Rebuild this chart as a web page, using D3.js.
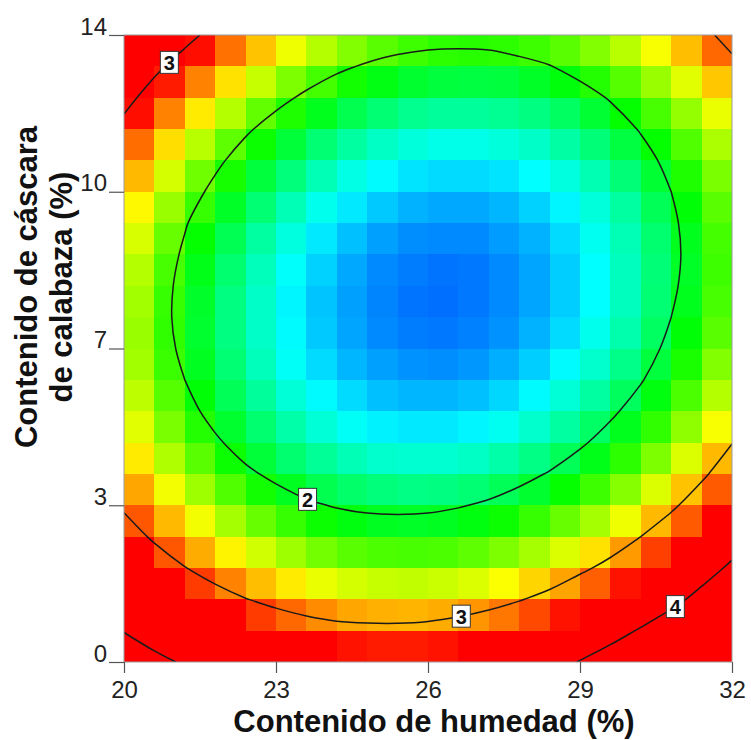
<!DOCTYPE html>
<html>
<head>
<meta charset="utf-8">
<script src="https://cdn.jsdelivr.net/npm/d3@7"></script>
<style>
  html, body { margin: 0; padding: 0; background: #ffffff; }
  svg { display: block; font-family: "Liberation Sans", Arial, Helvetica, sans-serif; }
</style>
</head>
<body>
<svg id="chart" width="751" height="740"></svg>
<script>
// Contenido de humedad (%) at each grid node
const humedad = [20, 20.6, 21.2, 21.8, 22.4, 23, 23.6, 24.2, 24.8, 25.4, 26,
                 26.6, 27.2, 27.8, 28.4, 29, 29.6, 30.2, 30.8, 31.4, 32];

// Contenido de cáscara de calabaza (%) at each grid node, top row first
const cascara = [14, 13.3, 12.6, 11.9, 11.2, 10.5, 9.8, 9.1, 8.4, 7.7, 7,
                 6.3, 5.6, 4.9, 4.2, 3.5, 2.8, 2.1, 1.4, 0.7, 0];

// Response at each node: one row per cascara value, one column per humedad value
const respuesta = [
  [3.61, 3.34, 3.11, 2.89, 2.71, 2.54, 2.41, 2.30, 2.21, 2.15, 2.11, 2.10, 2.11, 2.15, 2.21, 2.30, 2.42, 2.56, 2.72, 2.91, 3.12],
  [3.34, 3.08, 2.85, 2.64, 2.45, 2.29, 2.16, 2.05, 1.97, 1.91, 1.88, 1.87, 1.88, 1.93, 1.99, 2.09, 2.20, 2.35, 2.51, 2.70, 2.92],
  [3.11, 2.85, 2.62, 2.41, 2.23, 2.08, 1.95, 1.84, 1.76, 1.70, 1.67, 1.67, 1.69, 1.73, 1.80, 1.90, 2.02, 2.17, 2.34, 2.53, 2.75],
  [2.90, 2.65, 2.42, 2.22, 2.04, 1.89, 1.76, 1.66, 1.58, 1.53, 1.50, 1.50, 1.53, 1.57, 1.65, 1.75, 1.87, 2.02, 2.19, 2.39, 2.62],
  [2.73, 2.48, 2.26, 2.06, 1.88, 1.74, 1.61, 1.51, 1.44, 1.39, 1.37, 1.37, 1.39, 1.45, 1.52, 1.62, 1.75, 1.90, 2.08, 2.28, 2.51],
  [2.59, 2.35, 2.13, 1.93, 1.76, 1.61, 1.49, 1.40, 1.33, 1.28, 1.26, 1.26, 1.29, 1.35, 1.43, 1.53, 1.66, 1.82, 2.00, 2.21, 2.44],
  [2.49, 2.24, 2.02, 1.83, 1.66, 1.52, 1.40, 1.31, 1.24, 1.20, 1.19, 1.19, 1.23, 1.28, 1.37, 1.48, 1.61, 1.77, 1.95, 2.16, 2.39],
  [2.41, 2.17, 1.96, 1.77, 1.60, 1.46, 1.35, 1.26, 1.19, 1.16, 1.14, 1.15, 1.19, 1.25, 1.34, 1.45, 1.59, 1.75, 1.93, 2.15, 2.38],
  [2.37, 2.13, 1.92, 1.73, 1.57, 1.43, 1.32, 1.24, 1.18, 1.14, 1.13, 1.15, 1.19, 1.25, 1.34, 1.45, 1.59, 1.76, 1.95, 2.17, 2.41],
  [2.35, 2.12, 1.91, 1.73, 1.57, 1.44, 1.33, 1.25, 1.19, 1.16, 1.15, 1.17, 1.21, 1.28, 1.37, 1.49, 1.63, 1.80, 2.00, 2.21, 2.46],
  [2.37, 2.14, 1.94, 1.76, 1.60, 1.47, 1.37, 1.29, 1.24, 1.21, 1.20, 1.22, 1.27, 1.34, 1.44, 1.56, 1.71, 1.88, 2.07, 2.30, 2.54],
  [2.43, 2.20, 2.00, 1.82, 1.67, 1.54, 1.44, 1.37, 1.31, 1.29, 1.29, 1.31, 1.36, 1.44, 1.54, 1.66, 1.81, 1.98, 2.18, 2.41, 2.66],
  [2.51, 2.28, 2.09, 1.91, 1.77, 1.64, 1.54, 1.47, 1.42, 1.40, 1.40, 1.43, 1.48, 1.56, 1.66, 1.79, 1.95, 2.12, 2.33, 2.56, 2.81],
  [2.62, 2.40, 2.21, 2.04, 1.89, 1.77, 1.68, 1.61, 1.56, 1.55, 1.55, 1.58, 1.64, 1.72, 1.82, 1.96, 2.11, 2.29, 2.50, 2.73, 2.99],
  [2.77, 2.55, 2.36, 2.19, 2.05, 1.94, 1.84, 1.78, 1.74, 1.72, 1.73, 1.76, 1.82, 1.91, 2.02, 2.15, 2.31, 2.50, 2.71, 2.94, 3.20],
  [2.95, 2.73, 2.55, 2.38, 2.24, 2.13, 2.04, 1.98, 1.94, 1.93, 1.94, 1.98, 2.04, 2.13, 2.24, 2.38, 2.54, 2.73, 2.94, 3.18, 3.44],
  [3.16, 2.95, 2.76, 2.60, 2.47, 2.36, 2.27, 2.21, 2.18, 2.17, 2.18, 2.22, 2.29, 2.38, 2.50, 2.64, 2.80, 3.00, 3.21, 3.48, 3.76],
  [3.40, 3.19, 3.01, 2.85, 2.72, 2.62, 2.53, 2.48, 2.45, 2.44, 2.46, 2.50, 2.57, 2.67, 2.78, 2.93, 3.10, 3.33, 3.55, 3.80, 4.08],
  [3.67, 3.47, 3.29, 3.14, 3.01, 2.91, 2.83, 2.77, 2.75, 2.74, 2.76, 2.81, 2.88, 2.98, 3.10, 3.28, 3.46, 3.66, 3.87, 4.14, 4.42],
  [3.98, 3.78, 3.60, 3.45, 3.33, 3.23, 3.15, 3.10, 3.08, 3.08, 3.10, 3.15, 3.23, 3.33, 3.47, 3.64, 3.83, 4.04, 4.27, 4.52, 4.80],
  [4.32, 4.12, 3.95, 3.80, 3.68, 3.58, 3.51, 3.46, 3.44, 3.44, 3.47, 3.53, 3.61, 3.71, 3.84, 4.02, 4.21, 4.42, 4.65, 4.91, 5.19]
];

// Contour levels drawn as lines
const niveles = [2, 3, 4];

// Axis ticks
const xTicks = [20, 23, 26, 29, 32];
const xTickLabels = ["20", "23", "26", "29", "32"];
const yTicks = [0, 3.5, 7, 10.5, 14];
const yTickLabels = ["0", "3", "7", "10", "14"];

// Where each contour label sits (snapped onto its line)
const etiquetas = [
  { nivel: 3, x: 20.87, y: 13.42 },
  { nivel: 2, x: 23.65, y: 3.73 },
  { nivel: 3, x: 26.63, y: 1.16 },
  { nivel: 4, x: 30.83, y: 1.32 }
];

const svg = d3.select("#chart");
const plot = { left: 124, right: 732, top: 35, bottom: 662 };

const x = d3.scaleLinear().domain([20, 32]).range([plot.left, plot.right]);
const y = d3.scaleLinear().domain([0, 14]).range([plot.bottom, plot.top]);

// Rainbow ramp: blue for low response, red for high
const hue = d3.scaleLinear().domain([1.13, 3.14]).range([214, 0]).clamp(true);
const color = v => d3.hsl(hue(v), 1, 0.5).formatHex();

svg.append("defs").append("clipPath").attr("id", "area")
  .append("rect")
  .attr("x", plot.left).attr("y", plot.top)
  .attr("width", plot.right - plot.left).attr("height", plot.bottom - plot.top);

// Colour mosaic: each cell takes the value of its upper-left node
const nx = humedad.length, ny = cascara.length;
const celdas = [];
for (let j = 0; j < ny - 1; j++) {
  for (let i = 0; i < nx - 1; i++) {
    celdas.push({ i, j, v: respuesta[j][i] });
  }
}
svg.append("g")
  .attr("shape-rendering", "crispEdges")
  .selectAll("rect")
  .data(celdas)
  .join("rect")
  .attr("x", d => Math.round(x(humedad[d.i])))
  .attr("y", d => Math.round(y(cascara[d.j])))
  .attr("width", d => Math.round(x(humedad[d.i + 1])) - Math.round(x(humedad[d.i])))
  .attr("height", d => Math.round(y(cascara[d.j + 1])) - Math.round(y(cascara[d.j])))
  .attr("fill", d => color(d.v));

// Contour lines from the node grid
const contornos = d3.contours().size([nx, ny]).thresholds(niveles)(respuesta.flat());
const gx = d3.scaleLinear().domain([0.5, nx - 0.5]).range([x(humedad[0]), x(humedad[nx - 1])]);
const gy = d3.scaleLinear().domain([0.5, ny - 0.5]).range([y(cascara[0]), y(cascara[ny - 1])]);

// Break each ring where it runs along the outer border, keeping only the iso-lines
function tramos(ring) {
  const borde = p => p[0] <= 0 || p[0] >= nx || p[1] <= 0 || p[1] >= ny;
  const pts = ring.slice(0, -1);
  const k = pts.findIndex(borde);
  if (k < 0) return [{ cerrado: true, pts }];
  const rot = pts.slice(k).concat(pts.slice(0, k));
  const out = [];
  let cur = [];
  for (const p of rot) {
    if (borde(p)) { if (cur.length > 1) out.push(cur); cur = []; }
    else cur.push(p);
  }
  if (cur.length > 1) out.push(cur);
  return out.map(r => ({ cerrado: false, pts: r }));
}

const lineas = [];
contornos.forEach(c => {
  c.coordinates.forEach(poly => poly.forEach(ring => {
    tramos(ring).forEach(t => {
      lineas.push({
        nivel: c.value,
        cerrado: t.cerrado,
        pts: t.pts.map(p => [gx(p[0]), gy(p[1])])
      });
    });
  }));
});

const abierta = d3.line().curve(d3.curveCatmullRom.alpha(0.5));
const cerrada = d3.line().curve(d3.curveCatmullRomClosed.alpha(0.5));

svg.append("g")
  .attr("clip-path", "url(#area)")
  .selectAll("path")
  .data(lineas)
  .join("path")
  .attr("d", d => (d.cerrado ? cerrada : abierta)(d.pts))
  .attr("fill", "none")
  .attr("stroke", "#1a1a1a")
  .attr("stroke-width", 1.5);

// Plot frame
svg.append("rect")
  .attr("x", plot.left).attr("y", plot.top)
  .attr("width", plot.right - plot.left).attr("height", plot.bottom - plot.top)
  .attr("fill", "none").attr("stroke", "#9c9c9c").attr("stroke-width", 1);

// Contour labels: white boxes placed on their lines
function puntoCercano(nivel, px, py) {
  let best = null, bd = Infinity;
  lineas.filter(l => l.nivel === nivel).forEach(l => {
    const pts = l.cerrado ? l.pts.concat([l.pts[0]]) : l.pts;
    for (let s = 0; s < pts.length - 1; s++) {
      const [ax, ay] = pts[s], [bx, by] = pts[s + 1];
      const dx = bx - ax, dy = by - ay;
      const L = dx * dx + dy * dy;
      let t = L ? ((px - ax) * dx + (py - ay) * dy) / L : 0;
      t = Math.max(0, Math.min(1, t));
      const qx = ax + t * dx, qy = ay + t * dy;
      const d = (qx - px) ** 2 + (qy - py) ** 2;
      if (d < bd) { bd = d; best = [qx, qy]; }
    }
  });
  return best || [px, py];
}

const gLab = svg.append("g");
etiquetas.forEach(e => {
  const [cx, cy] = puntoCercano(e.nivel, x(e.x), y(e.y));
  const g = gLab.append("g").attr("transform", `translate(${cx},${cy})`);
  g.append("rect")
    .attr("x", -9).attr("y", -11).attr("width", 18).attr("height", 22)
    .attr("fill", "#ffffff").attr("stroke", "#333333").attr("stroke-width", 1);
  g.append("text")
    .attr("text-anchor", "middle")
    .attr("y", 7.5)
    .attr("font-size", 20).attr("font-weight", "bold")
    .attr("fill", "#111111")
    .text(e.nivel);
});

// Axes
const ejeX = svg.append("g")
  .attr("transform", `translate(0,${plot.bottom})`)
  .call(d3.axisBottom(x).tickValues(xTicks)
    .tickFormat((d, i) => xTickLabels[i]).tickSize(11).tickSizeOuter(0));
ejeX.select(".domain").remove();
ejeX.selectAll(".tick line").attr("stroke", "#555555").attr("stroke-width", 1.2);
ejeX.selectAll(".tick text")
  .attr("y", 36).attr("dy", 0)
  .attr("font-size", 24).attr("font-family", "Liberation Sans, Arial, sans-serif")
  .attr("fill", "#222222");

const ejeY = svg.append("g")
  .attr("transform", `translate(${plot.left},0)`)
  .call(d3.axisLeft(y).tickValues(yTicks)
    .tickFormat((d, i) => yTickLabels[i]).tickSize(15).tickSizeOuter(0));
ejeY.select(".domain").remove();
ejeY.selectAll(".tick line").attr("stroke", "#555555").attr("stroke-width", 1.2);
ejeY.selectAll(".tick text")
  .attr("x", -17).attr("dy", -1)
  .attr("font-size", 24).attr("font-family", "Liberation Sans, Arial, sans-serif")
  .attr("fill", "#222222");

// Axis titles
svg.append("text")
  .attr("x", 434).attr("y", 732)
  .attr("text-anchor", "middle")
  .attr("font-size", 31).attr("font-weight", "bold").attr("fill", "#111111")
  .text("Contenido de humedad (%)");

const tituloY = svg.append("text")
  .attr("transform", "translate(0,287) rotate(-90)")
  .attr("text-anchor", "middle")
  .attr("font-size", 31).attr("font-weight", "bold").attr("fill", "#111111");
tituloY.append("tspan").attr("x", 0).attr("y", 37).text("Contenido de cáscara");
tituloY.append("tspan").attr("x", 0).attr("y", 72).text("de calabaza (%)");
</script>
</body>
</html>
